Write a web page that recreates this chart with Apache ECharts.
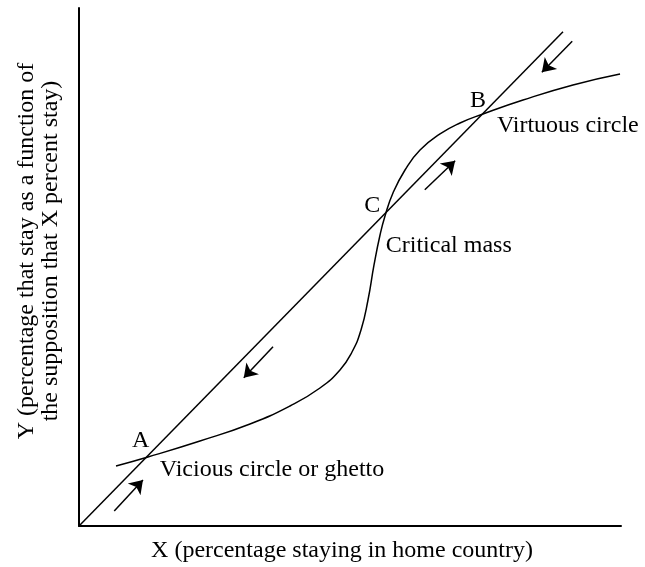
<!DOCTYPE html>
<html>
<head>
<meta charset="utf-8">
<script src="https://cdn.jsdelivr.net/npm/echarts@6/dist/echarts.min.js"></script>
<style>
  html, body { margin: 0; padding: 0; background: #fff; }
  #echarts_main { width: 645px; height: 567px; }
</style>
</head>
<body>
<div id="echarts_main"></div>
<script>
// 45-degree line Y = X (drawn in axis units)
const diagX = [0, 89.3];
const diagY = [0, 95.4];

// S-shaped response curve
const curveX = [6.83, 12.73, 22.32, 31.55, 38.93, 44.46, 48.15, 50.37, 52.03, 53.32, 54.43, 55.54, 56.46, 57.93, 60.15, 62.92, 66.61, 70.30, 74.54, 81.92, 91.14, 99.82];
const curveY = [11.58, 13.32, 16.41, 19.69, 23.17, 26.64, 30.12, 33.59, 37.84, 43.63, 50.39, 56.18, 59.85, 64.29, 68.73, 72.59, 75.68, 77.80, 79.54, 82.24, 85.14, 87.26];

// direction arrows: start -> end
const arrowFrom = [[91.0, 93.6], [63.8, 64.9], [35.8, 34.6], [6.5, 2.9]];
const arrowTo = [[85.4, 87.6], [69.4, 70.5], [30.4, 28.6], [11.8, 8.9]];

// annotations
const noteText = ['A', 'B', 'C', 'Virtuous circle', 'Critical mass', 'Vicious circle or ghetto'];
const noteX = [11.4, 73.6, 54.1, 77.1, 56.6, 14.9];
const noteY = [16.4, 82.2, 61.8, 77.2, 54.1, 10.8];
const noteAlign = ['center', 'center', 'center', 'left', 'left', 'left'];

const xTitle = 'X (percentage staying in home country)';
const yTitle = ['Y (percentage that stay as a function of', 'the supposition that X percent stay)'];

const font = '"Liberation Serif", "DejaVu Serif", serif';

const myChart = echarts.init(document.getElementById('echarts_main'));

const option = {
  animation: false,
  backgroundColor: '#fff',
  grid: { left: 79, right: 24, top: 8, bottom: 41 },
  xAxis: {
    type: 'value',
    min: 0,
    max: 100,
    axisLine: { lineStyle: { color: '#000', width: 2 } },
    axisTick: { show: false },
    axisLabel: { show: false },
    splitLine: { show: false }
  },
  yAxis: {
    type: 'value',
    min: 0,
    max: 100,
    axisLine: { show: true, lineStyle: { color: '#000', width: 2 } },
    axisTick: { show: false },
    axisLabel: { show: false },
    splitLine: { show: false }
  },
  graphic: [
    {
      type: 'text',
      x: 342,
      y: 551,
      style: {
        text: xTitle,
        font: '24px ' + font,
        fill: '#000',
        align: 'center',
        verticalAlign: 'middle'
      }
    },
    {
      type: 'text',
      x: 39,
      y: 251,
      rotation: Math.PI / 2,
      style: {
        text: yTitle.join('\n'),
        font: '24px ' + font,
        fill: '#000',
        align: 'center',
        verticalAlign: 'middle',
        lineHeight: 24
      }
    }
  ],
  series: [
    {
      type: 'line',
      data: diagX.map((x, i) => [x, diagY[i]]),
      showSymbol: false,
      lineStyle: { color: '#000', width: 1.5 }
    },
    {
      type: 'line',
      data: curveX.map((x, i) => [x, curveY[i]]),
      smooth: true,
      showSymbol: false,
      lineStyle: { color: '#000', width: 1.5 }
    },
    {
      type: 'lines',
      coordinateSystem: 'cartesian2d',
      symbol: ['none', 'arrow'],
      symbolSize: [0, 13],
      lineStyle: { color: '#000', width: 1.5, opacity: 1 },
      data: arrowFrom.map((p, i) => ({ coords: [p, arrowTo[i]] }))
    },
    {
      type: 'scatter',
      symbolSize: 0,
      silent: true,
      itemStyle: { opacity: 1 },
      data: noteText.map((t, i) => ({
        value: [noteX[i], noteY[i]],
        label: {
          show: true,
          formatter: t,
          position: 'inside',
          align: noteAlign[i],
          verticalAlign: 'middle',
          fontFamily: font,
          fontSize: 24,
          color: '#000'
        }
      }))
    }
  ]
};

myChart.setOption(option);
</script>
</body>
</html>
